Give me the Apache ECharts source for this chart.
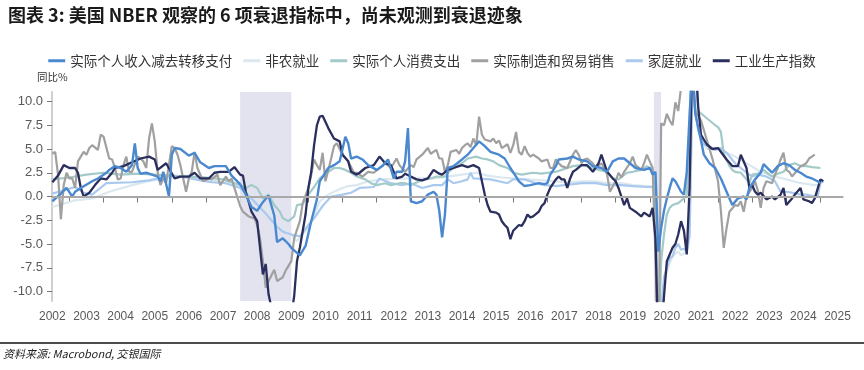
<!DOCTYPE html>
<html><head><meta charset="utf-8">
<script src="https://cdn.jsdelivr.net/npm/echarts@6/dist/echarts.min.js"></script>
<style>html,body{margin:0;padding:0;background:#fff}#c{width:864px;height:370px}</style>
</head><body><div id="c"></div>
<script>
const titleText = '图表 3: 美国 NBER 观察的 6 项衰退指标中，尚未观测到衰退迹象';
const sourceText = '资料来源: Macrobond, 交银国际';
const unitText = '同比%';
const seriesNames = ['实际个人收入减去转移支付','非农就业','实际个人消费支出','实际制造和贸易销售','家庭就业','工业生产指数'];
const yTickValues = [-10,-7.5,-5,-2.5,0,2.5,5,7.5,10];
const xTickYears = [2003,2004,2005,2006,2007,2008,2009,2010,2011,2012,2013,2014,2015,2016,2017,2018,2019,2020,2021,2022,2023,2024,2025];
const xLabelYears = [2002,2003,2004,2005,2006,2007,2008,2009,2010,2011,2012,2013,2014,2015,2016,2017,2018,2019,2020,2021,2022,2023,2024,2025];
const recessions = [[2008.0, 2009.5],[2020.12, 2020.33]];

const incomeData = [['2002-07',-0.5],['2002-10',0.3],['2002-12',0.9],['2003-02',0.0],['2003-03',0.5],['2003-05',0.9],['2003-09',1.6],['2003-11',1.9],['2004-02',2.5],['2004-03',2.8],['2004-05',3.2],['2004-07',3.0],['2004-09',2.6],['2004-11',3.3],['2004-12',5.6],['2005-01',3.0],['2005-02',2.4],['2005-04',2.5],['2005-06',2.3],['2005-08',2.1],['2005-09',1.6],['2005-10',2.6],['2005-12',0.0],['2006-01',4.4],['2006-02',5.1],['2006-04',5.0],['2006-07',4.3],['2006-09',4.6],['2006-11',3.6],['2007-02',3.0],['2007-04',3.2],['2007-08',3.2],['2007-10',2.2],['2008-01',1.3],['2008-03',0.2],['2008-05',-1.1],['2008-07',-1.5],['2008-09',-0.6],['2008-11',0.1],['2009-01',-2.0],['2009-02',-4.8],['2009-04',-4.4],['2009-06',-5.0],['2009-07',-5.4],['2009-10',-6.2],['2009-12',-5.2],['2010-02',-2.6],['2010-04',-0.3],['2010-05',1.6],['2010-08',3.0],['2010-10',3.3],['2010-12',3.7],['2011-02',6.3],['2011-03',5.6],['2011-04',4.0],['2011-06',4.2],['2011-08',3.9],['2011-10',3.3],['2012-01',2.8],['2012-03',3.2],['2012-05',3.9],['2012-07',1.9],['2012-08',2.6],['2012-10',2.6],['2012-11',3.7],['2012-12',7.2],['2013-01',-0.5],['2013-03',-0.7],['2013-05',-0.5],['2013-07',0.2],['2013-09',0.5],['2013-10',0.2],['2013-11',-1.5],['2013-12',-4.3],['2014-01',-1.9],['2014-02',3.0],['2014-04',3.2],['2014-07',3.9],['2014-09',4.4],['2014-11',5.1],['2015-01',5.8],['2015-03',5.3],['2015-05',4.7],['2015-08',4.4],['2015-10',4.0],['2015-12',3.0],['2016-02',2.1],['2016-03',1.6],['2016-05',1.1],['2016-07',1.2],['2016-10',1.4],['2016-12',1.3],['2017-01',1.4],['2017-02',2.3],['2017-04',3.2],['2017-05',3.9],['2017-08',4.0],['2017-10',4.2],['2017-12',3.9],['2018-03',3.7],['2018-05',3.2],['2018-08',3.0],['2018-10',2.6],['2018-12',3.7],['2019-02',4.0],['2019-04',4.0],['2019-06',3.5],['2019-08',3.0],['2019-11',2.8],['2020-01',3.0],['2020-02',2.3],['2020-03',2.6],['2020-04',-5.8],['2020-05',-3.3],['2020-06',-1.5],['2020-07',-0.2],['2020-08',0.9],['2020-09',1.9],['2020-10',1.6],['2020-12',0.5],['2021-01',0.2],['2021-02',2.6],['2021-03',8.6],['2021-04',14],['2021-05',8.7],['2021-07',5.9],['2021-08',4.4],['2021-10',3.5],['2021-12',3.0],['2022-02',1.9],['2022-04',0.5],['2022-06',-0.9],['2022-08',-0.2],['2022-10',0.0],['2022-11',-0.3],['2022-12',0.9],['2023-02',1.8],['2023-04',2.5],['2023-05',3.4],['2023-07',2.8],['2023-08',2.5],['2023-10',3.2],['2023-12',3.5],['2024-02',3.3],['2024-04',2.8],['2024-06',2.5],['2024-08',2.1],['2024-10',1.9],['2024-12',1.6],['2025-01',1.4]];

const payrollData = [['2002-07',-1.1],['2003-03',-0.4],['2003-09',-0.2],['2004-03',0.5],['2004-11',1.2],['2005-06',1.7],['2006-01',2.0],['2006-06',2.2],['2006-11',1.9],['2007-03',1.7],['2007-08',1.4],['2008-01',1.0],['2008-05',0.2],['2008-10',-1.1],['2009-02',-2.8],['2009-06',-3.7],['2009-09',-4.7],['2009-12',-3.6],['2010-01',-3.3],['2010-03',-2.0],['2010-05',-0.5],['2010-08',0.2],['2010-10',0.5],['2011-01',0.9],['2011-03',1.1],['2011-06',1.2],['2011-10',1.6],['2012-03',1.8],['2012-12',1.9],['2013-09',1.9],['2014-02',2.1],['2014-07',2.3],['2014-12',2.5],['2015-04',2.2],['2015-09',2.0],['2016-01',1.9],['2016-06',1.8],['2016-11',1.7],['2017-04',1.6],['2017-08',1.5],['2018-01',1.6],['2018-06',1.6],['2018-10',1.4],['2019-03',1.4],['2019-07',1.2],['2019-12',1.1],['2020-02',1.1],['2020-03',0.5],['2020-04',-13],['2020-05',-11.5],['2020-06',-9.0],['2020-07',-8.0],['2020-08',-7.0],['2020-09',-6.3],['2020-10',-6.0],['2020-11',-5.8],['2020-12',-6.2],['2021-01',-6.0],['2021-02',-5.9],['2021-03',-4.3],['2021-04',11],['2021-05',9],['2021-06',7],['2021-07',6.0],['2021-09',5.0],['2021-12',5.1],['2022-04',4.6],['2022-07',4.2],['2022-11',3.5],['2023-04',2.6],['2023-09',2.1],['2024-01',1.8],['2024-06',1.4],['2024-11',1.2],['2025-01',1.3]];

const consumptionData = [['2002-07',1.8],['2003-01',2.0],['2003-07',2.3],['2004-01',2.5],['2004-07',2.3],['2005-01',2.4],['2005-07',2.3],['2006-01',2.2],['2006-07',2.1],['2007-01',2.0],['2007-07',1.8],['2008-01',1.2],['2008-03',0.9],['2008-05',1.2],['2008-07',0.9],['2008-09',-0.2],['2008-11',0.2],['2009-01',-0.9],['2009-03',-1.6],['2009-04',-2.3],['2009-06',-2.6],['2009-08',-2.1],['2009-09',-0.9],['2009-11',-0.8],['2010-01',0.2],['2010-03',1.0],['2010-05',1.9],['2010-08',2.6],['2010-10',3.0],['2010-12',3.0],['2011-02',2.8],['2011-04',2.5],['2011-06',2.1],['2011-09',1.8],['2011-11',1.4],['2012-01',1.2],['2012-04',1.4],['2012-06',1.2],['2012-09',1.4],['2012-11',1.4],['2013-01',1.2],['2013-04',1.6],['2013-06',1.8],['2013-08',1.9],['2013-10',2.1],['2014-01',2.1],['2014-02',2.5],['2014-04',3.0],['2014-07',3.5],['2014-09',4.0],['2014-12',4.2],['2015-02',4.0],['2015-04',3.9],['2015-06',3.7],['2015-08',3.3],['2015-11',3.0],['2016-01',2.5],['2016-04',2.3],['2016-06',2.4],['2016-08',2.5],['2016-11',2.4],['2017-01',2.5],['2017-04',2.6],['2017-06',2.8],['2017-08',3.0],['2017-10',3.2],['2018-01',3.3],['2018-03',3.2],['2018-05',3.0],['2018-07',2.8],['2018-10',2.6],['2018-12',1.9],['2019-02',1.8],['2019-05',2.5],['2019-07',2.6],['2019-10',2.8],['2019-12',3.2],['2020-02',2.8],['2020-03',-0.2],['2020-04',-16],['2020-05',-6.8],['2020-06',-4.0],['2020-07',-1.9],['2020-08',-1.2],['2020-09',-0.9],['2020-11',-0.7],['2021-01',-0.2],['2021-02',0.2],['2021-03',7.2],['2021-04',20],['2021-05',14],['2021-06',9.0],['2021-08',8.5],['2021-10',8.0],['2021-12',7.5],['2022-01',7.3],['2022-02',6.8],['2022-03',4.5],['2022-05',3.2],['2022-06',2.8],['2022-07',2.6],['2022-09',2.5],['2022-11',1.8],['2022-12',1.4],['2023-01',2.3],['2023-03',2.4],['2023-05',2.8],['2023-07',2.3],['2023-08',2.1],['2023-10',2.4],['2023-12',2.6],['2024-02',3.3],['2024-04',3.5],['2024-06',3.2],['2024-08',3.2],['2024-10',3.1],['2025-01',3.0]];

const salesData = [['2002-07',4.5],['2002-08',4.7],['2002-09',2.3],['2002-10',-2.4],['2002-11',1.2],['2002-12',2.5],['2003-01',1.9],['2003-02',1.9],['2003-03',0.9],['2003-04',3.7],['2003-06',4.7],['2003-07',4.4],['2003-08',5.1],['2003-09',5.4],['2003-11',4.9],['2003-12',6.5],['2004-01',6.3],['2004-03',4.0],['2004-04',3.9],['2004-05',3.0],['2004-06',1.8],['2004-07',1.9],['2004-08',3.3],['2004-09',4.2],['2004-10',2.6],['2004-11',2.6],['2005-01',4.2],['2005-02',4.0],['2005-03',3.7],['2005-04',3.0],['2005-05',6.1],['2005-06',7.7],['2005-07',5.8],['2005-08',2.6],['2005-09',1.2],['2005-10',1.9],['2005-11',1.4],['2006-01',5.3],['2006-02',5.1],['2006-03',4.4],['2006-04',3.3],['2006-05',1.9],['2006-06',0.5],['2006-07',1.9],['2006-08',2.6],['2006-09',4.7],['2006-10',3.0],['2006-12',1.6],['2007-02',1.9],['2007-03',1.8],['2007-05',2.3],['2007-06',1.2],['2007-08',2.1],['2007-09',1.6],['2007-10',1.9],['2007-11',0.9],['2008-01',-1.0],['2008-02',-1.6],['2008-04',-2.1],['2008-06',-2.3],['2008-07',-3.0],['2008-08',-4.4],['2008-09',-6.8],['2008-10',-9.6],['2008-11',-8.9],['2009-01',-7.7],['2009-02',-8.9],['2009-04',-8.5],['2009-05',-7.8],['2009-07',-6.8],['2009-08',-4.4],['2009-10',-2.6],['2009-11',-0.7],['2010-01',0.9],['2010-02',2.3],['2010-03',3.9],['2010-04',3.3],['2010-05',2.8],['2010-06',4.6],['2010-07',1.6],['2010-09',4.0],['2010-10',5.3],['2010-11',5.6],['2011-01',4.4],['2011-03',3.7],['2011-05',2.5],['2011-06',2.5],['2011-08',2.1],['2011-10',2.6],['2011-12',2.5],['2012-02',3.0],['2012-04',3.5],['2012-06',3.0],['2012-08',4.0],['2012-09',3.3],['2012-11',2.6],['2013-01',3.3],['2013-02',3.1],['2013-03',3.9],['2013-05',4.4],['2013-07',5.1],['2013-08',4.5],['2013-10',4.9],['2013-11',4.0],['2013-12',4.0],['2014-01',2.6],['2014-02',3.3],['2014-03',4.7],['2014-05',4.9],['2014-06',4.5],['2014-07',5.1],['2014-08',5.4],['2014-09',5.6],['2014-10',5.2],['2014-11',6.1],['2014-12',5.4],['2015-01',8.4],['2015-02',6.5],['2015-03',6.0],['2015-05',5.8],['2015-06',6.1],['2015-07',5.6],['2015-08',5.9],['2015-09',5.1],['2015-11',5.5],['2015-12',4.6],['2016-01',5.4],['2016-02',6.8],['2016-03',4.7],['2016-04',4.4],['2016-05',5.3],['2016-06',4.6],['2016-07',4.2],['2016-08',4.4],['2016-10',4.0],['2016-11',3.7],['2017-01',3.9],['2017-02',3.0],['2017-03',3.0],['2017-04',3.9],['2017-05',3.5],['2017-06',3.2],['2017-08',3.0],['2017-10',4.4],['2017-11',4.9],['2017-12',4.4],['2018-01',3.5],['2018-02',3.9],['2018-03',4.0],['2018-05',3.5],['2018-06',3.0],['2018-08',3.5],['2018-09',3.0],['2018-10',2.3],['2018-11',0.5],['2019-01',1.6],['2019-02',2.5],['2019-03',2.0],['2019-04',2.6],['2019-06',3.5],['2019-07',4.2],['2019-08',3.3],['2019-10',2.8],['2019-11',3.5],['2019-12',4.4],['2020-01',3.7],['2020-02',3.0],['2020-03',-6],['2020-04',-20],['2020-05',7.7],['2020-06',7.5],['2020-07',8.7],['2020-08',8.0],['2020-09',7.5],['2020-10',9.9],['2020-11',9.0],['2020-12',11.5],['2021-01',12],['2021-02',12],['2021-03',12],['2021-04',13],['2021-05',9.0],['2021-07',8.0],['2021-09',6.0],['2021-11',4.0],['2022-01',1.6],['2022-02',-1.5],['2022-03',-5.4],['2022-04',-3.3],['2022-05',-1.6],['2022-07',-0.9],['2022-08',-1.0],['2022-09',-0.5],['2022-10',-1.6],['2022-11',0.0],['2023-01',0.9],['2023-02',1.6],['2023-03',0.6],['2023-04',-1.2],['2023-05',0.9],['2023-06',1.6],['2023-08',1.4],['2023-09',2.3],['2023-10',3.0],['2023-11',3.9],['2023-12',4.6],['2024-01',2.8],['2024-02',2.6],['2024-03',2.1],['2024-05',2.8],['2024-06',3.2],['2024-07',3.3],['2024-08',3.5],['2024-09',4.0],['2024-10',4.2],['2024-11',4.4]];

const householdData = [['2002-07',0.3],['2003-03',1.0],['2003-06',0.4],['2003-09',0.2],['2004-02',1.4],['2004-11',1.5],['2005-05',1.7],['2005-10',2.0],['2006-01',2.2],['2006-06',2.0],['2006-11',1.7],['2007-03',1.5],['2007-08',1.4],['2008-01',0.9],['2008-05',-0.2],['2008-10',-1.8],['2009-02',-3.2],['2009-04',-3.7],['2009-07',-4.0],['2009-10',-4.2],['2010-01',-3.0],['2010-03',-2.3],['2010-06',-1.0],['2010-09',0.0],['2011-01',0.2],['2011-04',0.4],['2011-07',0.9],['2011-12',1.0],['2012-02',1.9],['2012-06',1.4],['2012-10',1.2],['2013-01',1.4],['2013-05',0.9],['2013-09',1.2],['2013-12',1.2],['2014-02',1.8],['2014-04',1.4],['2014-07',1.6],['2014-09',1.8],['2014-10',2.5],['2014-11',1.9],['2015-05',1.8],['2015-11',1.4],['2016-01',1.8],['2016-05',1.8],['2016-09',1.4],['2016-12',1.2],['2017-04',1.1],['2017-07',1.2],['2018-01',1.4],['2018-06',1.4],['2018-10',1.2],['2019-03',1.2],['2019-07',1.1],['2019-12',1.0],['2020-02',1.0],['2020-03',-1.0],['2020-04',-15],['2020-05',-12],['2020-06',-8.5],['2020-07',-7.5],['2020-08',-6.5],['2020-09',-6.3],['2020-10',-5.4],['2020-11',-5.0],['2020-12',-5.6],['2021-01',-5.5],['2021-02',-5.8],['2021-03',-4.0],['2021-04',12],['2021-05',9],['2021-06',7],['2021-08',5.5],['2021-12',4.9],['2022-02',5.1],['2022-04',4.6],['2022-07',3.5],['2022-09',3.0],['2022-11',2.5],['2023-01',2.1],['2023-03',2.3],['2023-06',2.1],['2023-09',1.6],['2023-11',0.5],['2024-01',0.5],['2024-03',0.4],['2024-06',0.2],['2024-08',0.2],['2024-11',0.0],['2024-12',0.0],['2025-01',1.4],['2025-02',1.6]];

const industryData = [['2002-07',1.5],['2002-09',2.2],['2002-11',3.3],['2003-01',3.0],['2003-03',3.0],['2003-04',2.5],['2003-05',0.9],['2003-06',0.0],['2003-08',0.4],['2003-10',1.2],['2003-12',1.9],['2004-02',1.8],['2004-04',2.5],['2004-05',3.0],['2004-08',3.2],['2005-02',4.0],['2005-05',4.2],['2005-07',3.9],['2005-08',2.8],['2005-11',3.5],['2006-02',1.9],['2006-04',2.1],['2006-07',2.1],['2006-09',2.5],['2006-11',1.9],['2007-02',1.9],['2007-04',2.5],['2007-06',2.6],['2007-09',2.6],['2007-11',3.1],['2008-01',2.3],['2008-02',2.2],['2008-03',0.5],['2008-05',-1.6],['2008-07',-2.6],['2008-08',-5.4],['2008-09',-8.2],['2008-10',-7.1],['2008-11',-10.3],['2009-01',-13],['2009-03',-14],['2009-06',-14.5],['2009-08',-10.5],['2009-09',-6.8],['2009-10',-5.4],['2009-12',-1.9],['2010-01',0.9],['2010-02',2.6],['2010-03',5.4],['2010-04',7.5],['2010-05',8.4],['2010-06',8.5],['2010-08',7.2],['2010-10',6.1],['2010-12',5.8],['2011-01',4.4],['2011-03',3.7],['2011-04',2.6],['2011-06',2.3],['2011-07',2.5],['2011-09',3.0],['2011-12',3.3],['2012-02',4.2],['2012-04',3.5],['2012-06',3.3],['2012-08',1.9],['2012-10',2.1],['2012-11',2.4],['2013-01',2.1],['2013-03',1.8],['2013-05',1.7],['2013-07',1.9],['2013-09',2.8],['2013-11',2.4],['2013-12',2.3],['2014-02',2.8],['2014-04',3.0],['2014-07',3.3],['2014-09',3.1],['2014-11',3.3],['2015-01',3.0],['2015-02',1.6],['2015-03',0.2],['2015-04',-0.9],['2015-05',-1.6],['2015-07',-1.7],['2015-08',-1.9],['2015-09',-2.6],['2015-10',-3.0],['2015-11',-3.3],['2015-12',-4.5],['2016-01',-3.6],['2016-03',-3.0],['2016-04',-3.1],['2016-05',-2.6],['2016-06',-1.9],['2016-07',-2.2],['2016-08',-2.1],['2016-10',-1.6],['2016-11',-1.0],['2016-12',-0.7],['2017-01',0.2],['2017-02',0.9],['2017-04',1.8],['2017-05',2.1],['2017-06',1.8],['2017-07',1.8],['2017-08',0.9],['2017-09',1.9],['2017-10',2.6],['2017-11',2.8],['2018-01',3.3],['2018-03',3.3],['2018-05',2.6],['2018-07',3.5],['2018-08',4.4],['2018-09',3.5],['2018-10',2.6],['2018-12',1.9],['2019-01',1.6],['2019-02',0.9],['2019-04',-0.9],['2019-05',-0.2],['2019-06',-1.2],['2019-08',-1.6],['2019-10',-2.1],['2019-11',-1.7],['2020-01',-2.1],['2020-02',-1.2],['2020-03',-4.4],['2020-04',-16],['2020-05',-15],['2020-06',-10.5],['2020-07',-6.8],['2020-08',-6.1],['2020-09',-5.4],['2020-10',-5.0],['2020-11',-4.0],['2020-12',-2.6],['2021-01',-3.6],['2021-02',-6.1],['2021-03',1.0],['2021-04',16],['2021-05',15],['2021-06',9.5],['2021-07',6.5],['2021-09',5.5],['2021-11',5.0],['2022-01',5.1],['2022-04',3.9],['2022-06',3.2],['2022-08',3.2],['2022-09',4.4],['2022-11',3.0],['2022-12',0.9],['2023-01',1.2],['2023-02',0.5],['2023-03',0.2],['2023-04',0.4],['2023-06',-0.3],['2023-08',0.0],['2023-09',-0.3],['2023-11',0.2],['2023-12',0.9],['2024-01',-0.9],['2024-03',-0.2],['2024-04',0.2],['2024-06',0.9],['2024-07',-0.3],['2024-09',-0.5],['2024-10',-0.7],['2024-11',-0.2],['2025-01',1.8],['2025-02',1.6]];

const colors = {
  income: '#4a88d0', payroll: '#dce8ef', consumption: '#a2cac8',
  sales: '#a0a0a0', household: '#a9caee', industry: '#2b2f5e'
};

function toPoints(arr){
  return arr.map(function(d){
    const p = d[0].split('-');
    return [Number(p[0]) + (Number(p[1]) - 1) / 12, d[1]];
  });
}

function lineSeries(name, data, color, width){
  return { name: name, type: 'line', data: toPoints(data), symbol: 'none',
    lineStyle: { color: color, width: width }, itemStyle: { color: color },
    clip: true, silent: true, animation: false };
}

const chart = echarts.init(document.getElementById('c'), null, { renderer: 'canvas' });
const axisFont = 'Liberation Sans, Arial, sans-serif';
chart.setOption({
  animation: false,
  backgroundColor: '#ffffff',
  textStyle: { fontFamily: '"Noto Sans CJK SC", sans-serif' },
  title: { text: titleText, left: 3, top: 1,
    textStyle: { fontSize: 18, fontWeight: 'bold', color: '#1a1a1a', fontFamily: '"Noto Sans CJK SC", sans-serif' } },
  legend: {
    data: seriesNames, left: 'center', top: 49, icon: 'rect', itemWidth: 17, itemHeight: 3, itemGap: 11,
    textStyle: { fontSize: 13.5, color: '#333', fontFamily: '"Noto Sans CJK SC", sans-serif' }
  },
  grid: { left: 52, right: 21, top: 92, bottom: 69, containLabel: false },
  xAxis: {
    type: 'value', min: 2002.49, max: 2025.66,
    axisLine: { show: true, lineStyle: { color: '#cfcfcf', width: 2 } },
    axisTick: { show: true, customValues: xTickYears, length: 6, lineStyle: { color: '#777', width: 1 } },
    axisLabel: { show: true, customValues: xLabelYears.map(function(y){ return y + 0.5; }),
      formatter: function(v){ return String(Math.floor(v)); },
      color: '#595959', fontSize: 12, fontFamily: axisFont, margin: 10 },
    splitLine: { show: false }
  },
  yAxis: {
    type: 'value', min: -11, max: 11,
    axisLine: { show: true, lineStyle: { color: '#cfcfcf', width: 2 } },
    axisTick: { show: true, customValues: yTickValues, length: 5, lineStyle: { color: '#777', width: 1 } },
    axisLabel: { show: true, customValues: yTickValues, formatter: function(v){ return v.toFixed(1); },
      color: '#595959', fontSize: 13, fontFamily: axisFont, margin: 9 },
    splitLine: { show: false }
  },
  graphic: [
    { type: 'text', left: 37, top: 72, style: { text: unitText, fontSize: 10.5, fill: '#333', fontFamily: '"Noto Sans CJK SC", sans-serif' } },
    { type: 'line', shape: { x1: 0, y1: 343, x2: 864, y2: 343 }, style: { stroke: '#111', lineWidth: 1.5 } },
    { type: 'text', left: 3, top: 348, style: { text: sourceText, fontSize: 11, fontStyle: 'italic', fill: '#222', fontFamily: '"Noto Sans CJK SC", sans-serif' } }
  ],
  series: [
    { name: 'bg', type: 'line', data: [], silent: true, z: 1,
      markArea: { silent: true, itemStyle: { color: '#e3e3f0' },
        data: recessions.map(function(r){ return [{ xAxis: r[0] }, { xAxis: r[1] }]; }) },
      markLine: { silent: true, symbol: ['none','none'], label: { show: false },
        lineStyle: { color: '#a8a8a8', width: 2, type: 'solid' }, data: [{ yAxis: 0 }] } },
    lineSeries(seriesNames[1], payrollData, colors.payroll, 2.2),
    lineSeries(seriesNames[4], householdData, colors.household, 2.2),
    lineSeries(seriesNames[2], consumptionData, colors.consumption, 2.2),
    lineSeries(seriesNames[3], salesData, colors.sales, 2.2),
    lineSeries(seriesNames[5], industryData, colors.industry, 2.3),
    lineSeries(seriesNames[0], incomeData, colors.income, 2.4)
  ]
});
</script>
</body></html>
